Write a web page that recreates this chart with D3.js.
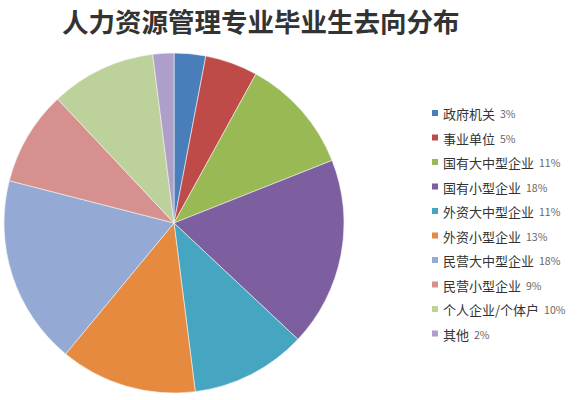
<!DOCTYPE html>
<html>
<head>
<meta charset="utf-8">
<script src="https://cdn.jsdelivr.net/npm/d3@7"></script>
<style>
  body { margin: 0; background: #fff; }
  text { font-family: "Noto Sans CJK SC", sans-serif; }
</style>
</head>
<body>
<svg id="chart"></svg>
<script>
// data
var categories = ["政府机关", "事业单位", "国有大中型企业", "国有小型企业", "外资大中型企业",
                  "外资小型企业", "民营大中型企业", "民营小型企业", "个人企业/个体户", "其他"];
var shares = [3, 5, 11, 18, 11, 13, 18, 9, 10, 2];
var colors = ["#4a7ebb", "#be4b48", "#98b954", "#7d5fa0", "#46a6c2",
              "#e58a3e", "#94aad5", "#d6918f", "#bdd19a", "#ae9fca"];

var width = 580, height = 400;
var svg = d3.select("#chart").attr("width", width).attr("height", height);

// title
svg.append("text")
  .attr("x", 62).attr("y", 32)
  .text("人力资源管理专业毕业生去向分布")
  .style("font-size", "26.5px")
  .style("font-weight", "bold")
  .style("fill", "#333");

var data = categories.map(function (c, i) { return { name: c, value: shares[i] }; });

var pie = d3.pie().sort(null).value(function (d) { return d.value; });
var arc = d3.arc().innerRadius(0).outerRadius(170);

var g = svg.append("g").attr("transform", "translate(174,223)");
g.selectAll("path")
  .data(pie(data))
  .enter()
  .append("path")
  .attr("d", arc)
  .attr("fill", function (d, i) { return colors[i]; })
  .attr("stroke", "#f4f4f4")
  .attr("stroke-width", 0.6);

// legend
var legend = svg.append("g").attr("transform", "translate(432,113)");
var rows = legend.selectAll("g")
  .data(data)
  .enter()
  .append("g")
  .attr("transform", function (d, i) { return "translate(0," + (i * 24.5) + ")"; });

rows.append("rect")
  .attr("x", 0).attr("y", -3)
  .attr("width", 6).attr("height", 6)
  .attr("fill", function (d, i) { return colors[i]; });

var label = rows.append("text")
  .attr("x", 11).attr("y", 0)
  .attr("dominant-baseline", "central")
  .style("fill", "#333")
  .style("font-size", "13px");
label.append("tspan").text(function (d) { return d.name; });
label.append("tspan")
  .attr("dx", 5)
  .style("font-size", "10.5px")
  .style("fill", "#666")
  .text(function (d) { return d.value + "%"; });
</script>
</body>
</html>
